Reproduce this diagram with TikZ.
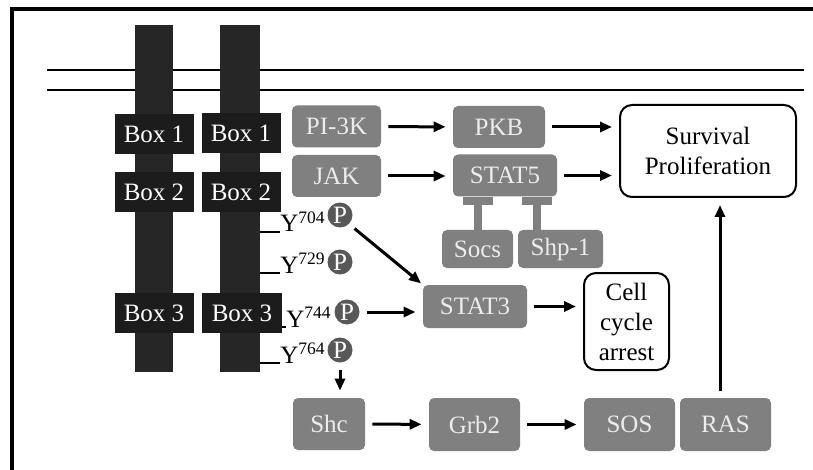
\documentclass[tikz,border=0pt]{standalone}
\usepackage{fontspec}
\setmainfont{Liberation Serif}
\usetikzlibrary{arrows.meta}
\definecolor{protgray}{RGB}{128,128,128}
\definecolor{protfont}{RGB}{236,236,236}
\definecolor{bargray}{RGB}{38,38,38}
\definecolor{boxblack}{RGB}{28,28,28}
\definecolor{phosgray}{RGB}{88,88,88}
\begin{document}
\begin{tikzpicture}[x=0.5pt, y=-0.5pt, font=\fontsize{12.5}{15}\selectfont,
  chain/.style={fill=bargray, minimum width=19pt, minimum height=173.5pt, inner sep=0},
  boxlab/.style={fill=boxblack, text=white, minimum width=39.5pt, minimum height=20pt, inner sep=0},
  prot/.style={fill=protgray, text=protfont, rounded corners=2.5pt, minimum height=21pt, inner sep=0},
  result/.style={draw, line width=1pt, rounded corners=6pt, align=center, inner sep=0},
  phos/.style={circle, fill=phosgray, text=white, minimum size=12.5pt, inner sep=0},
  ylab/.style={anchor=base east, inner sep=0},
  act/.style={-{Triangle[length=6pt,width=5pt]}, line width=1.5pt, shorten <=3.5pt, shorten >=3.5pt},
  inh/.style={-{Bar[width=15pt]}, line width=4pt, protgray}]
\useasboundingbox (0,0) rectangle (813,470);
\draw [line width=2pt] (12,470) -- (12,9) -- (813,9);
\draw [line width=1pt] (47,70) -- (804,70);
\draw [line width=1pt] (47,90) -- (804,90);
\node [chain] (barl) at (154,198.5) {};
\node [chain, minimum width=20pt] (barr) at (240,198.5) {};
\node [boxlab] (box1l) at (154,134) {Box 1};
\node [boxlab] (box1r) at (241,133) {Box 1};
\node [boxlab] (box2l) at (154,192) {Box 2};
\node [boxlab] (box2r) at (241,192) {Box 2};
\node [boxlab] (box3l) at (154,313) {Box 3};
\node [boxlab, minimum width=40pt] (box3r) at (242,313) {Box 3};
\node [prot, minimum width=44.5pt] (pi3k) at (336.5,126.5) {PI-3K};
\node [prot, minimum width=44.5pt] (jak) at (336.5,176) {JAK};
\node [prot, minimum width=46pt] (pkb) at (499,127) {PKB};
\node [prot, minimum width=52pt] (stat5) at (505,175.5) {STAT5};
\node [prot, minimum width=35.5pt, minimum height=19pt] (socs) at (477.5,249) {Socs};
\node [prot, minimum width=42.5pt, minimum height=19pt] (shp1) at (560.5,249) {Shp-1};
\node [prot, minimum width=52pt, minimum height=21.5pt] (stat3) at (475,306.5) {STAT3};
\node [prot, minimum width=36pt, minimum height=26pt] (shc) at (329,424) {Shc};
\node [prot, minimum width=45.5pt, minimum height=26.5pt] (grb2) at (474.5,424.5) {Grb2};
\node [prot, minimum width=45.5pt, minimum height=26.5pt] (sos) at (629.5,424.5) {SOS};
\node [prot, minimum width=45.5pt, minimum height=26.5pt] (ras) at (725.5,424.5) {RAS};
\node [result, minimum width=88pt, minimum height=46pt] (surv) at (708,151) {Survival\\Proliferation};
\node [result, minimum width=42.5pt, minimum height=48.5pt] (cell) at (626.5,321.5) {Cell\\cycle\\arrest};
\node [phos] (p704) at (340,215) {P};
\node [phos] (p729) at (340,262) {P};
\node [phos] (p744) at (347,312) {P};
\node [phos] (p764) at (340,350) {P};
\node [ylab] (y704) at (326,232) {Y\textsuperscript{704}};
\node [ylab] (y729) at (326,273) {Y\textsuperscript{729}};
\node [ylab] (y744) at (332,327) {Y\textsuperscript{744}};
\node [ylab] (y764) at (326,363) {Y\textsuperscript{764}};
\draw [line width=1pt] (y704.base west) -- (y704.base west -| barr.east);
\draw [line width=1pt] (y729.base west) -- (y729.base west -| barr.east);
\draw [line width=1pt] (y744.base west) -- (y744.base west -| box3r.east);
\draw [line width=1pt] (y764.base west) -- (y764.base west -| barr.east);
\draw [act] (pi3k) -- (pkb);
\draw [act] (jak) -- (jak -| stat5.west);
\draw [act] (pkb.east) -- (surv.west |- pkb.east);
\draw [act] (stat5.east) -- (surv.west |- stat5.east);
\draw [act, shorten >=1pt] (p704.south east) -- (stat3.north west);
\draw [act] (p744.east) -- (stat3.west |- p744.east);
\draw [act] (stat3.east) -- (cell.west |- stat3.east);
\draw [act] (p764.south) -- (p764.south |- shc.north);
\draw [act] (shc) -- (grb2);
\draw [act] (grb2) -- (sos);
\coordinate (rasup) at ([xshift=-2.75pt]ras.north);
\draw [act] (rasup) -- (rasup |- surv.south);
\coordinate (shpstem) at ([xshift=-11.75pt]shp1.north);
\draw [inh] (socs.north) -- (socs.north |- stat5.south);
\draw [inh] (shpstem) -- (shpstem |- stat5.south);
\end{tikzpicture}
\end{document}
